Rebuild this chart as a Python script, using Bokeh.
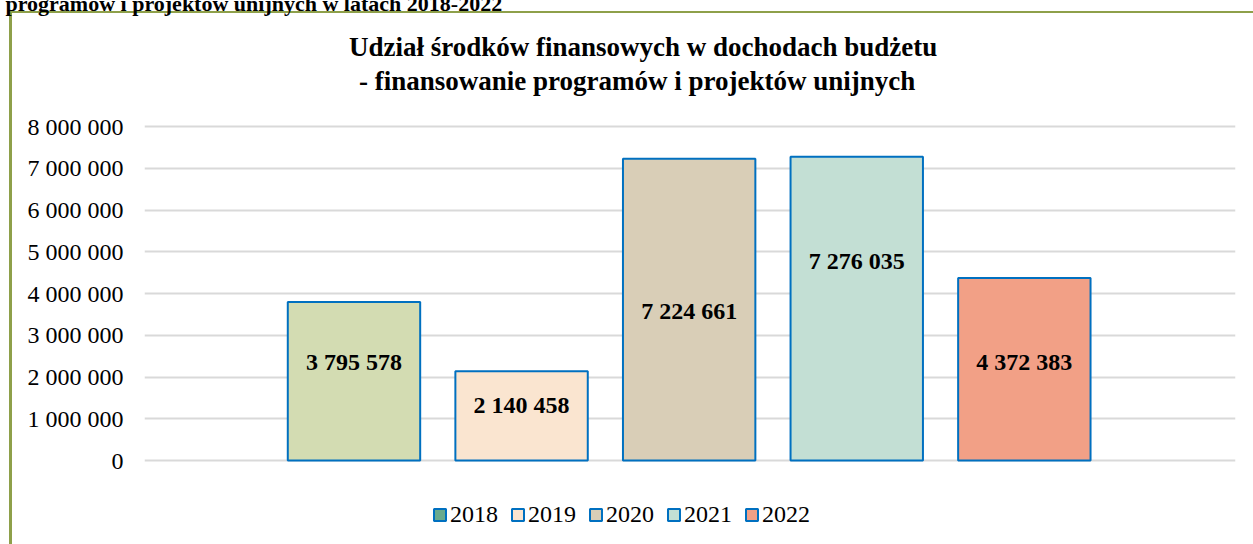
from bokeh.plotting import figure
from bokeh.models import (FixedTicker, Label, Legend, LegendItem, Title,
                          ColumnDataSource, Range1d)
from bokeh.core.properties import value
from bokeh.embed import file_html
from bokeh.resources import INLINE

# ---- data ----
years = ["2018", "2019", "2020", "2021", "2022"]
values = [3795578, 2140458, 7224661, 7276035, 4372383]
value_labels = ["3 795 578", "2 140 458", "7 224 661", "7 276 035", "4 372 383"]
tick_values = [0, 1000000, 2000000, 3000000, 4000000, 5000000, 6000000, 7000000, 8000000]
tick_labels = ["0", "1 000 000", "2 000 000", "3 000 000", "4 000 000",
               "5 000 000", "6 000 000", "7 000 000", "8 000 000"]
title_line1 = "Udział środków finansowych w dochodach budżetu"
title_line2 = "- finansowanie programów i projektów unijnych"
doc_heading = "programów i projektów unijnych w latach 2018-2022"

# ---- styles / layout ----
bar_colors = ["#D3DCB2", "#FAE5D0", "#D9CEB7", "#C3DFD4", "#F2A086"]
legend_colors = ["#6AAA8E", "#FAE5D0", "#D9CEB7", "#C3DFD4", "#F2A086"]
label_y = [2350000, 1320000, 3590000, 4790000, 2350000]
FONT = "Liberation Serif"
BORDER = "#8EA04A"

OX, OY = -10, -16            # canvas origin in window pixels
W, H = 1253 - OX, 544 - OY
PX_PER_M = 41.75             # pixels per 1 000 000
ZERO_WIN = 460               # window y of value 0
FRAME_TOP_WIN = 17
frame_left = 144 - OX
frame_right = 1235 - OX

y_top = (ZERO_WIN - FRAME_TOP_WIN) / PX_PER_M * 1e6
y_bot = -(544 - ZERO_WIN) / PX_PER_M * 1e6

xs = list(range(len(years)))
src = ColumnDataSource(dict(x=xs, top=values, color=bar_colors,
                            label=value_labels, ly=label_y))

p = figure(width=W, height=H, output_backend="svg", toolbar_location=None,
           x_range=Range1d(-1.25, 5.26), y_range=Range1d(y_bot, y_top),
           min_border_left=frame_left, min_border_right=W - frame_right,
           min_border_top=FRAME_TOP_WIN - OY, min_border_bottom=0)
p.styles = {
    "position": "absolute", "left": f"{OX}px", "top": f"{OY}px",
    "background-image": f"linear-gradient({BORDER}, {BORDER}), linear-gradient({BORDER}, {BORDER})",
    "background-size": "3px 100%, 100% 2px",
    "background-position": f"{9 - OX}px {11 - OY}px, {9 - OX}px {11 - OY}px",
    "background-repeat": "no-repeat",
}
p.outline_line_color = None
p.background_fill_color = "white"
p.border_fill_alpha = 0

p.xaxis.visible = False
p.xgrid.visible = False
p.ygrid.ticker = FixedTicker(ticks=tick_values)
p.ygrid.grid_line_color = "#D9D9D9"
p.ygrid.grid_line_width = 2
p.yaxis.ticker = FixedTicker(ticks=tick_values)
p.yaxis.major_label_overrides = {t: l for t, l in zip(tick_values, tick_labels)}
p.yaxis.axis_line_color = None
p.yaxis.major_tick_line_color = None
p.yaxis.minor_tick_line_color = None
p.yaxis.major_tick_out = 0
p.yaxis.major_label_standoff = 21
p.yaxis.major_label_text_font = FONT
p.yaxis.major_label_text_font_size = "24px"
p.yaxis.major_label_text_color = "black"

p.vbar(x="x", top="top", width=0.79, bottom=0, source=src, fill_color="color",
       line_color="#0070C0", line_width=2)

p.text(x="x", y="ly", text="label", source=src, text_align="center",
       text_baseline="middle", text_font=value(FONT), text_font_style="bold",
       text_font_size="24px", text_color="black")

# legend (swatch proxies: hidden renderers, one per year)
items = []
for i, (yr, c) in enumerate(zip(years, legend_colors)):
    r = p.vbar(x=[xs[i]], top=[values[i]], width=0.5, fill_color=c,
               line_color="#0070C0", line_width=2, visible=False)
    items.append(LegendItem(label=yr, renderers=[r]))
legend = Legend(items=items, orientation="horizontal", location=(288, 16),
                glyph_width=15, glyph_height=15, label_standoff=3, spacing=12,
                padding=0, margin=0, border_line_color=None,
                background_fill_alpha=0, inactive_fill_alpha=0,
                label_text_font=FONT,
                label_text_font_size="24px", label_text_color="black")
p.add_layout(legend, "center")

# chart titles (inside frame, data units)
t1_x = (643 - 354) / 167.5
t2_x = (637 - 354) / 167.5
t1_y = (ZERO_WIN - 46) / PX_PER_M * 1e6
t2_y = (ZERO_WIN - 80) / PX_PER_M * 1e6
p.add_layout(Label(x=t1_x, y=t1_y, text=title_line1,
                   text_align="center", text_baseline="middle", text_font=FONT,
                   text_font_style="bold", text_font_size="27px", text_color="black"))
p.add_layout(Label(x=t2_x, y=t2_y, text=title_line2,
                   text_align="center", text_baseline="middle", text_font=FONT,
                   text_font_style="bold", text_font_size="27px", text_color="black"))

# document heading (partly cut off at the top), in the above panel
p.add_layout(Title(text=doc_heading, align="left", offset=5 - 144,
                   vertical_align="top", standoff=0, text_font=FONT,
                   text_font_style="bold", text_font_size="22px",
                   text_color="black"), "above")

open("out.html", "w").write(file_html(p, INLINE))
